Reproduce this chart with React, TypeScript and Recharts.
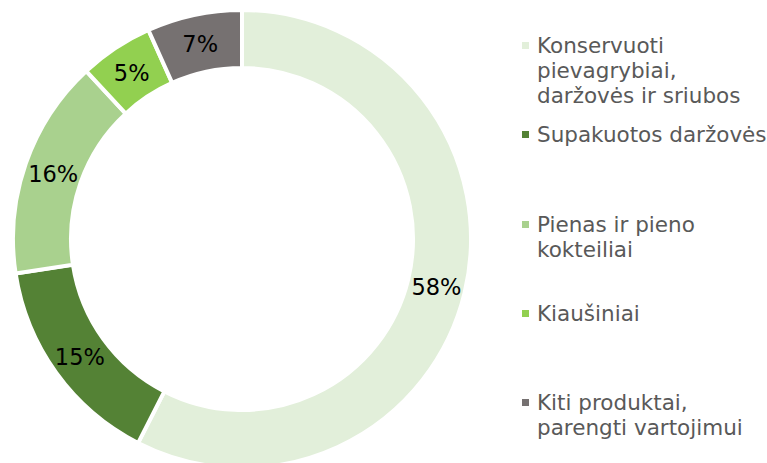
import React from "react";
import { PieChart, Pie, Cell, Legend } from "recharts";

const categories = [
  "Konservuoti pievagrybiai, daržovės ir sriubos",
  "Supakuotos daržovės",
  "Pienas ir pieno kokteiliai",
  "Kiaušiniai",
  "Kiti produktai, parengti vartojimui",
];
const legendLines = [
  ["Konservuoti", "pievagrybiai,", "daržovės ir sriubos"],
  ["Supakuotos daržovės"],
  ["Pienas ir pieno", "kokteiliai"],
  ["Kiaušiniai"],
  ["Kiti produktai,", "parengti vartojimui"],
];
const values = [57.5, 15.1, 15.5, 5.2, 6.7];
const percentLabels = ["58%", "15%", "16%", "5%", "7%"];
const colors = ["#E2EFDA", "#548235", "#A9D18E", "#92D050", "#767171"];

const data = categories.map((name, i) => ({ name, value: values[i] }));

const RAD = Math.PI / 180;
const FONT = "'DejaVu Sans', Verdana, sans-serif";

const renderLabel = (props: any) => {
  const { cx, cy, midAngle, innerRadius, outerRadius, index } = props;
  const r = (innerRadius + outerRadius) / 2;
  const x = cx + r * Math.cos(-midAngle * RAD);
  const y = cy + r * Math.sin(-midAngle * RAD);
  return (
    <text
      x={x}
      y={y + 1}
      fill="#000000"
      textAnchor="middle"
      dominantBaseline="central"
      fontSize={22.5}
      fontFamily={FONT}
    >
      {percentLabels[index]}
    </text>
  );
};

const LegendContent = () => (
  <div style={{ position: "relative", width: 252, height: 463, fontFamily: FONT }}>
    {legendLines.map((lines, i) => (
      <div
        key={i}
        style={{
          position: "absolute",
          left: 0,
          top: 33 + i * 89.3,
          display: "flex",
          alignItems: "flex-start",
        }}
      >
        <div
          style={{
            width: 7,
            height: 7,
            background: colors[i],
            marginTop: 9,
            marginRight: 8,
            flex: "none",
          }}
        />
        <div style={{ fontSize: 21.5, lineHeight: "25px", color: "#595959", whiteSpace: "nowrap" }}>
          {lines.map((l, j) => (
            <div key={j}>{l}</div>
          ))}
        </div>
      </div>
    ))}
  </div>
);

export default function App() {
  return (
    <div style={{ position: "absolute", left: 0, top: 0, width: 767, height: 463, background: "#ffffff" }}>
      <PieChart width={767} height={463} margin={{ top: 0, right: 0, bottom: 0, left: 0 }}>
        <Pie
          data={data}
          dataKey="value"
          nameKey="name"
          cx={242}
          cy={239}
          innerRadius={171}
          outerRadius={229}
          startAngle={90}
          endAngle={-270}
          stroke="#ffffff"
          strokeWidth={4}
          label={renderLabel}
          labelLine={false}
          isAnimationActive={false}
        >
          {data.map((d, i) => (
            <Cell key={d.name} fill={colors[i]} />
          ))}
        </Pie>
        <Legend
          layout="vertical"
          align="right"
          verticalAlign="top"
          content={<LegendContent />}
          wrapperStyle={{ position: "absolute", left: 522, top: 0, width: 245, height: 463 }}
        />
      </PieChart>
    </div>
  );
}
